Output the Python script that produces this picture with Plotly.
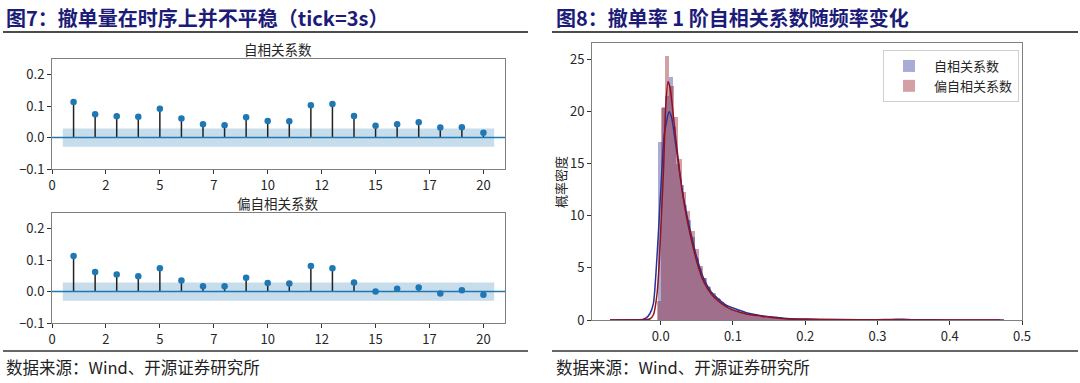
import plotly.graph_objects as go

# ---------------- data ----------------
lags = [1, 2, 3, 4, 5, 6, 7, 8, 9, 10, 11, 12, 13, 14, 15, 16, 17, 18, 19, 20]
acf_vals = [0.113, 0.074, 0.068, 0.066, 0.092, 0.061, 0.042, 0.039, 0.065, 0.053,
            0.052, 0.103, 0.107, 0.069, 0.038, 0.042, 0.049, 0.032, 0.033, 0.015]
pacf_vals = [0.113, 0.062, 0.054, 0.049, 0.074, 0.035, 0.017, 0.017, 0.044, 0.027,
             0.026, 0.081, 0.074, 0.029, 0.000, 0.009, 0.013, -0.006, 0.004, -0.010]
conf_lag_span = [0.5, 20.5]
conf_bound = 0.029

acf_xtick_vals = [0, 2.5, 5, 7.5, 10, 12.5, 15, 17.5, 20]
acf_xtick_text = ["0", "2", "5", "7", "10", "12", "15", "17", "20"]
acf_ytick_vals = [-0.1, 0.0, 0.1, 0.2]
acf_ytick_text = ["−0.1", "0.0", "0.1", "0.2"]

# histogram (density) of lag-1 autocorrelation, bin left edges and heights
blue_bin_w = 0.0051
blue_edges = [-0.067, -0.03, -0.0037, 0.0014, 0.0065, 0.0116, 0.0167, 0.0218, 0.0269, 0.032,
              0.0371, 0.0422, 0.0473, 0.0524, 0.0575, 0.0626, 0.0677, 0.0728, 0.0779,
              0.083, 0.0881, 0.0932, 0.0983, 0.1034, 0.1085, 0.1136, 0.1187, 0.1238,
              0.1289, 0.134, 0.1391, 0.1442, 0.1493, 0.1544, 0.1595, 0.1646, 0.1697,
              0.1748, 0.1799, 0.185, 0.19, 0.195, 0.2, 0.25, 0.33, 0.47]
blue_heights = [0.02, 0.03, 17.1, 20.5, 21.5, 23.3, 18.5, 15.0, 13.0, 11.0,
                9.6, 8.0, 6.0, 5.0, 4.0, 3.3, 2.7, 2.3, 2.0,
                1.7, 1.4, 1.2, 1.1, 0.95, 0.8, 0.7, 0.6, 0.5,
                0.45, 0.4, 0.35, 0.3, 0.3, 0.25, 0.2, 0.15, 0.1,
                0.08, 0.06, 0.05, 0.05, 0.06, 0.05, 0.03, 0.05, 0.01]
red_bin_w = 0.0058
red_edges = [-0.0053, 0.0005, 0.0063, 0.0121, 0.0179, 0.0237, 0.0295, 0.0353, 0.0411,
             0.0469, 0.0527, 0.0585, 0.0643, 0.0701, 0.0759, 0.0817, 0.0875, 0.0933,
             0.0991, 0.1049, 0.1107, 0.1165, 0.1223, 0.1281, 0.1339, 0.1397, 0.1455,
             0.1513, 0.1571, 0.1629, 0.1687, 0.1745, 0.1803, 0.1861, 0.1919, 0.1977,
             0.2035, 0.25, 0.3]
red_heights = [1.8, 20.35, 25.4, 22.5, 19.5, 15.5, 12.3, 10.5, 8.5,
               6.8, 5.2, 4.0, 3.2, 2.6, 2.1, 1.7, 1.4, 1.1,
               0.95, 0.8, 0.7, 0.6, 0.5, 0.4, 0.32, 0.28, 0.24,
               0.2, 0.17, 0.13, 0.1, 0.07, 0.05, 0.05, 0.04, 0.06,
               0.04, 0.02, 0.02]

# kernel density curves
blue_kde_x = [-0.07, -0.04, -0.03, -0.025, -0.02, -0.015, -0.01, -0.0065, -0.003, 0.0014,
              0.005, 0.0116, 0.015, 0.02, 0.025, 0.03, 0.035, 0.04, 0.05, 0.06, 0.07,
              0.08, 0.09, 0.1, 0.11, 0.12, 0.13, 0.14, 0.15, 0.16, 0.17, 0.18, 0.2,
              0.22, 0.25, 0.3, 0.32, 0.335, 0.35, 0.4, 0.475]
blue_kde_y = [0.0, 0.02, 0.03, 0.05, 0.2, 0.6, 1.6, 4.5, 8.5, 14.1,
              17.8, 20.0, 19.5, 17.3, 14.8, 12.4, 10.5, 8.9, 6.0, 3.9, 2.7,
              2.0, 1.45, 1.15, 0.92, 0.68, 0.52, 0.42, 0.32, 0.26, 0.16, 0.11, 0.1,
              0.06, 0.04, 0.03, 0.05, 0.08, 0.03, 0.01, 0.0]
red_kde_x = [-0.07, -0.03, -0.015, -0.01, -0.005, -0.002, 0.0, 0.004, 0.007, 0.0102,
             0.013, 0.017, 0.02, 0.025, 0.03, 0.035, 0.04, 0.05, 0.06, 0.07, 0.08,
             0.09, 0.1, 0.11, 0.12, 0.13, 0.14, 0.15, 0.16, 0.18, 0.2, 0.25, 0.3,
             0.35, 0.47]
red_kde_y = [0.0, 0.0, 0.1, 0.5, 2.5, 5.5, 8.5, 14.5, 20.5, 22.9,
             22.3, 20.0, 18.0, 15.0, 12.3, 10.2, 8.5, 5.6, 3.6, 2.5, 1.8,
             1.3, 0.95, 0.75, 0.55, 0.45, 0.35, 0.28, 0.2, 0.08, 0.07, 0.03, 0.02,
             0.01, 0.0]

hist_xtick_vals = [0.0, 0.1, 0.2, 0.3, 0.4, 0.5]
hist_xtick_text = ["0.0", "0.1", "0.2", "0.3", "0.4", "0.5"]
hist_ytick_vals = [0, 5, 10, 15, 20, 25]

series_names = ["自相关系数", "偏自相关系数"]

# ---------------- styles ----------------
FONT = "Noto Sans CJK SC"
W, H = 1080, 383
TITLE_COLOR = "#1c1c78"
TEXT_COLOR = "#262626"
FRAME_COLOR = "#808080"
STEM_BLUE = "#1f77b4"
BAND_COLOR = "rgba(31,119,180,0.25)"
BLUE = "rgb(40,50,150)"
RED = "rgb(145,18,30)"
BLUE_FILL = "rgba(40,50,150,0.4)"
RED_FILL = "rgba(145,18,30,0.4)"


def px_x(p):
    return p / W


def px_y(p):
    return 1 - p / H


fig = go.Figure()


def stem_traces(xa, ya, vals):
    # confidence band
    fig.add_trace(go.Scatter(
        x=[conf_lag_span[0], conf_lag_span[1], conf_lag_span[1], conf_lag_span[0]],
        y=[conf_bound, conf_bound, -conf_bound, -conf_bound],
        fill="toself", fillcolor=BAND_COLOR, line=dict(width=0),
        mode="lines", hoverinfo="skip", showlegend=False, xaxis=xa, yaxis=ya))
    sx, sy = [], []
    for lag, v in zip(lags, vals):
        sx += [lag, lag, None]
        sy += [0, v, None]
    fig.add_trace(go.Scatter(x=sx, y=sy, mode="lines",
                             line=dict(color="#222222", width=1.5),
                             showlegend=False, xaxis=xa, yaxis=ya, hoverinfo="skip"))
    fig.add_trace(go.Scatter(x=lags, y=vals, mode="markers",
                             marker=dict(color=STEM_BLUE, size=6.5),
                             showlegend=False, xaxis=xa, yaxis=ya))


stem_traces("x", "y", acf_vals)
stem_traces("x2", "y2", pacf_vals)

# histogram + kde
fig.add_trace(go.Bar(x=blue_edges, y=blue_heights, width=blue_bin_w, offset=0,
                     marker=dict(color=BLUE_FILL, line=dict(width=0)),
                     name=series_names[0], xaxis="x3", yaxis="y3"))
fig.add_trace(go.Bar(x=red_edges, y=red_heights, width=red_bin_w, offset=0,
                     marker=dict(color=RED_FILL, line=dict(width=0)),
                     name=series_names[1], xaxis="x3", yaxis="y3"))
fig.add_trace(go.Scatter(x=blue_kde_x, y=blue_kde_y, mode="lines",
                         line=dict(color=BLUE, width=1.5, shape="spline", smoothing=0.6),
                         showlegend=False, xaxis="x3", yaxis="y3"))
fig.add_trace(go.Scatter(x=red_kde_x, y=red_kde_y, mode="lines",
                         line=dict(color=RED, width=1.5, shape="spline", smoothing=0.6),
                         showlegend=False, xaxis="x3", yaxis="y3"))

axis_common = dict(showline=True, mirror=True, linecolor=FRAME_COLOR, linewidth=1,
                   ticks="outside", ticklen=4, tickcolor="#333333", showgrid=False,
                   zeroline=False, automargin=False,
                   tickfont=dict(family=FONT, size=13, color=TEXT_COLOR))

fig.update_layout(
    width=W, height=H, margin=dict(l=0, r=0, t=0, b=0, pad=0, autoexpand=False),
    paper_bgcolor="white", plot_bgcolor="white",
    barmode="overlay", bargap=0,
    font=dict(family=FONT, color=TEXT_COLOR),
    xaxis=dict(domain=[px_x(52), px_x(505)], range=[0, 21], tickvals=acf_xtick_vals,
               ticktext=acf_xtick_text, anchor="y", **axis_common),
    yaxis=dict(domain=[px_y(169), px_y(59)], range=[-0.1, 0.25], tickvals=acf_ytick_vals,
               ticktext=acf_ytick_text, anchor="x", **axis_common),
    xaxis2=dict(domain=[px_x(52), px_x(505)], range=[0, 21], tickvals=acf_xtick_vals,
                ticktext=acf_xtick_text, anchor="y2", **axis_common),
    yaxis2=dict(domain=[px_y(323), px_y(213)], range=[-0.1, 0.25], tickvals=acf_ytick_vals,
                ticktext=acf_ytick_text, anchor="x2", **axis_common),
    xaxis3=dict(domain=[px_x(592), px_x(1022)], range=[-0.095, 0.5], tickvals=hist_xtick_vals,
                ticktext=hist_xtick_text, anchor="y3", **axis_common),
    yaxis3=dict(domain=[px_y(320), px_y(43)], range=[0, 26.6], tickvals=hist_ytick_vals,
                anchor="x3", **axis_common),
    legend=dict(x=px_x(883), y=px_y(50), xanchor="left", yanchor="top",
                bgcolor="white", bordercolor="#d0d0d0", borderwidth=1,
                font=dict(family=FONT, size=13, color=TEXT_COLOR),
                itemwidth=40, tracegroupgap=2),
)

# zero lines (axhline)
for xr, yr in [("x domain", "y"), ("x2 domain", "y2")]:
    fig.add_shape(type="line", xref=xr, yref=yr, x0=0, x1=1, y0=0, y1=0,
                  line=dict(color=STEM_BLUE, width=1.5))

# header lines & footer lines
for x0, x1 in [(3, 528), (552, 1078)]:
    fig.add_shape(type="line", xref="paper", yref="paper", x0=px_x(x0), x1=px_x(x1),
                  y0=px_y(32), y1=px_y(32), line=dict(color="#111111", width=1.5))
    fig.add_shape(type="line", xref="paper", yref="paper", x0=px_x(x0), x1=px_x(x1),
                  y0=px_y(351), y1=px_y(351), line=dict(color="#333333", width=1.5))

annos = [
    dict(text="<b>图7：撤单量在时序上并不平稳（tick=3s）</b>", x=px_x(4), y=px_y(17),
         xanchor="left", yanchor="middle", font=dict(size=20, color=TITLE_COLOR)),
    dict(text="<b>图8：撤单率 1 阶自相关系数随频率变化</b>", x=px_x(554), y=px_y(17),
         xanchor="left", yanchor="middle", font=dict(size=20, color=TITLE_COLOR)),
    dict(text="自相关系数", x=px_x(278), y=px_y(49), xanchor="center", yanchor="middle",
         font=dict(size=13.5, color=TEXT_COLOR)),
    dict(text="偏自相关系数", x=px_x(278), y=px_y(203), xanchor="center", yanchor="middle",
         font=dict(size=13.5, color=TEXT_COLOR)),
    dict(text="概率密度", x=px_x(561), y=px_y(182), xanchor="center", yanchor="middle",
         textangle=-90, font=dict(size=13, color=TEXT_COLOR)),
    dict(text="数据来源：Wind、开源证券研究所", x=px_x(4), y=px_y(367), xanchor="left",
         yanchor="middle", font=dict(size=16.5, color="#222222")),
    dict(text="数据来源：Wind、开源证券研究所", x=px_x(554), y=px_y(367), xanchor="left",
         yanchor="middle", font=dict(size=16.5, color="#222222")),
]
for a in annos:
    a["font"]["family"] = FONT
    fig.add_annotation(xref="paper", yref="paper", showarrow=False, **a)

fig.write_html("out.html", config={"displayModeBar": False},
               post_script="document.body.style.margin='0';document.body.style.padding='0';")
